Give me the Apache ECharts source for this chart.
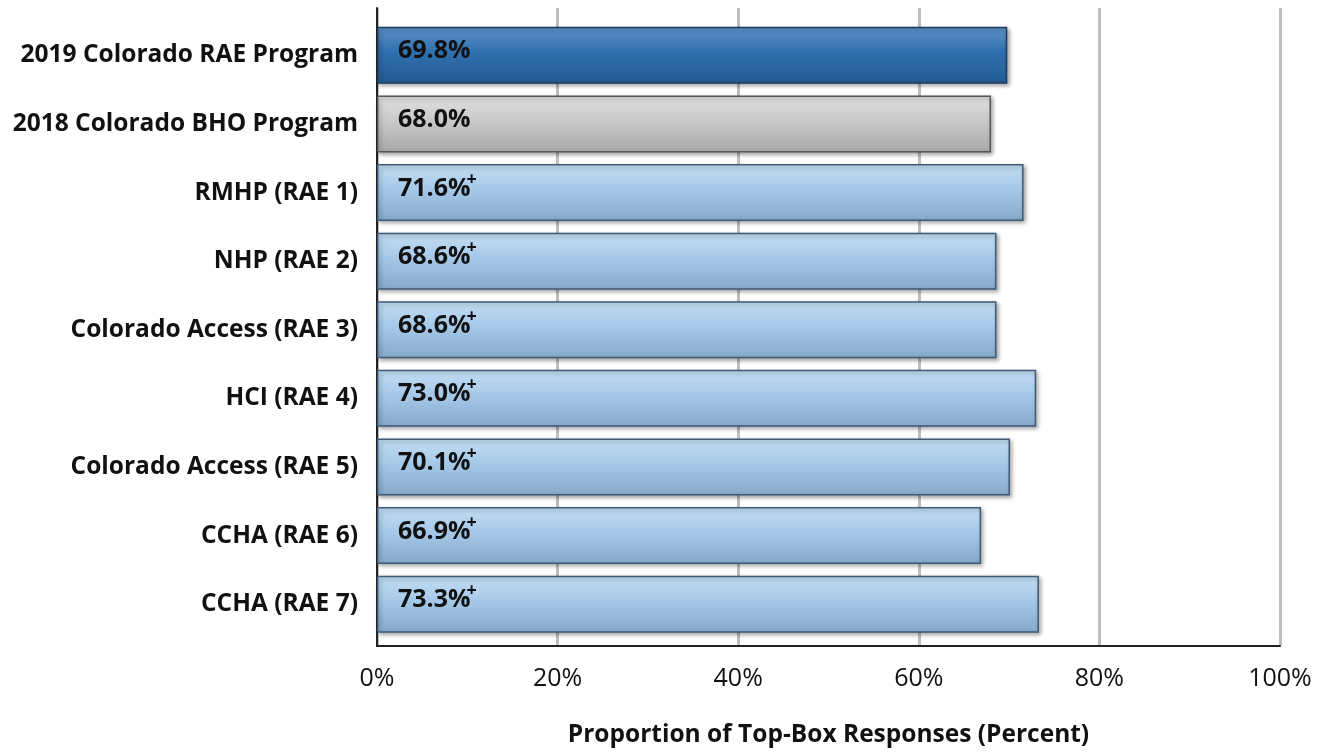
<!DOCTYPE html>
<html><head><meta charset="utf-8">
<script src="https://cdn.jsdelivr.net/npm/echarts@6/dist/echarts.min.js"></script>
<style>html,body{margin:0;padding:0;background:#fff}#c{width:1327px;height:753px}</style>
</head><body><div id="c"></div>
<script>
const categories = ['2019 Colorado RAE Program','2018 Colorado BHO Program','RMHP (RAE 1)','NHP (RAE 2)','Colorado Access (RAE 3)','HCI (RAE 4)','Colorado Access (RAE 5)','CCHA (RAE 6)','CCHA (RAE 7)'];
const values = [69.8, 68.0, 71.6, 68.6, 68.6, 73.0, 70.1, 66.9, 73.3];
const plusMark = [false, false, true, true, true, true, true, true, true];
const xTicks = [0, 20, 40, 60, 80, 100];
const axisTitle = 'Proportion of Top-Box Responses (Percent)';

const FONT = 'Open Sans';
function grad(top, mid, bot){
  return {type:'linear',x:0,y:0,x2:0,y2:1,colorStops:[{offset:0,color:top},{offset:0.45,color:mid},{offset:1,color:bot}]};
}
const styles = [
  {color:grad('#5e93c8','#2f6fad','#245b92'), borderColor:'#1d3c5c'},
  {color:grad('#e0e0e0','#c9c9c9','#a8a8a8'), borderColor:'#555555'},
];
const lightStyle = {color:grad('#c4def3','#a5c8e8','#85a9ca'), borderColor:'#3e5b78'};

const data = values.map((v,i)=>({
  value: v,
  itemStyle: Object.assign({borderWidth:1.5, shadowColor:'rgba(0,0,0,0.35)', shadowBlur:4, shadowOffsetX:2, shadowOffsetY:2}, styles[i] || lightStyle),
  label: {formatter: plusMark[i] ? '{a|' + v.toFixed(1) + '%}{p|+}' : '{a|' + v.toFixed(1) + '%}'}
}));

const chart = echarts.init(document.getElementById('c'));
chart.setOption({
  animation:false,
  grid:[
    {left:377, top:8, width:903, height:644, containLabel:false},
    {left:377, top:21, width:903, height:617.5, containLabel:false}
  ],
  xAxis:[
    {gridIndex:0, type:'value', min:0, max:100, interval:20,
     axisLine:{show:true, lineStyle:{color:'#222', width:2}},
     axisTick:{show:false},
     splitLine:{show:true, lineStyle:{color:'#bfbfbf', width:3}},
     axisLabel:{formatter: v => xTicks.includes(v) ? v + '%' : '', fontFamily:FONT, fontSize:25, color:'#111', margin:20},
     name: axisTitle, nameLocation:'middle', nameGap:77,
     nameTextStyle:{fontFamily:FONT, fontWeight:'bold', fontSize:24.5, color:'#111'}},
    {gridIndex:1, type:'value', min:0, max:100, show:false}
  ],
  yAxis:[
    {gridIndex:0, type:'value', min:0, max:1, axisLine:{show:true, lineStyle:{color:'#222', width:2}},
     axisTick:{show:false}, axisLabel:{show:false}, splitLine:{show:false}},
    {gridIndex:1, type:'category', data:categories, inverse:true,
     axisLine:{show:false}, axisTick:{show:false}, splitLine:{show:false},
     axisLabel:{fontFamily:FONT, fontWeight:'bold', fontSize:24.5, color:'#111', margin:19, padding:[0,0,6,0]}}
  ],
  series:[{
    type:'bar', xAxisIndex:1, yAxisIndex:1, data:data, barWidth:57,
    label:{show:true, position:'insideLeft', distance:21, offset:[0,-4],
      rich:{
        a:{fontFamily:FONT, fontWeight:'bold', fontSize:25, color:'#111'},
        p:{fontFamily:FONT, fontWeight:'bold', fontSize:18, color:'#111', padding:[0,0,18,-4]}
      }}
  }]
});
</script></body></html>
